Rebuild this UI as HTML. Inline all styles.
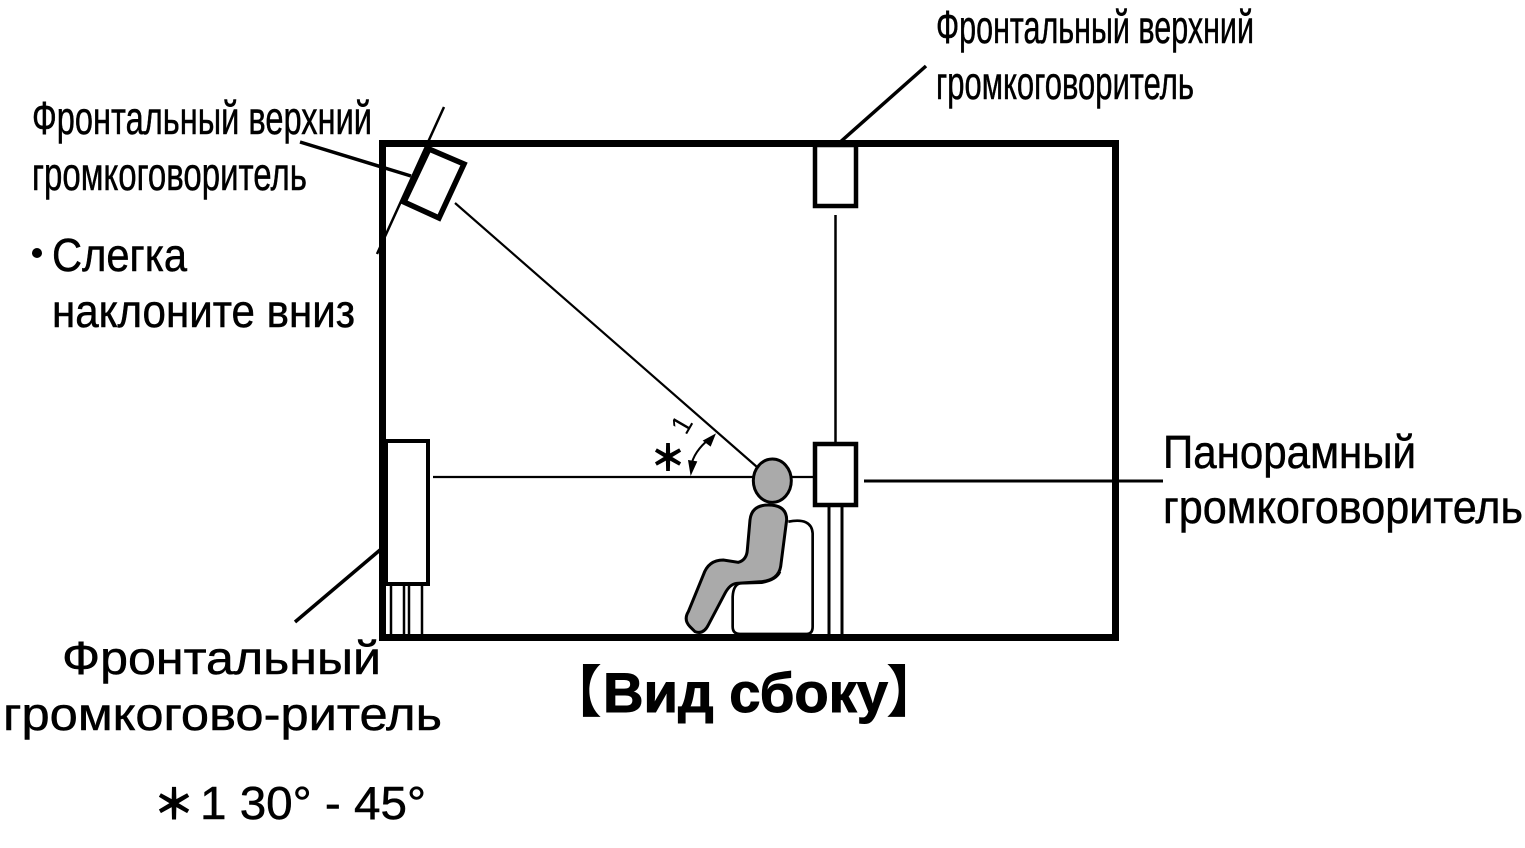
<!DOCTYPE html>
<html><head><meta charset="utf-8"><style>
html,body{margin:0;padding:0;background:#fff}
svg{display:block}
text{font-family:"Liberation Sans","Noto Sans CJK JP",sans-serif;fill:#000}
</style></head><body>
<svg width="1525" height="848" viewBox="0 0 1525 848" xmlns="http://www.w3.org/2000/svg">
<g fill="none" stroke="#000">
<rect x="382.5" y="143.5" width="733" height="494" stroke-width="7"/>
<line x1="444" y1="107" x2="377" y2="254" stroke-width="2.5"/>
<line x1="300" y1="142" x2="411" y2="176" stroke-width="3.5"/>
<polygon points="429,149 464,164 439,218 404,202" fill="#fff" stroke-width="5.5"/>
<line x1="455" y1="203" x2="757" y2="467" stroke-width="2.2"/>
<line x1="433" y1="477" x2="815" y2="477" stroke-width="2.2"/>
<line x1="835.5" y1="215" x2="835.5" y2="442" stroke-width="2.5"/>
<rect x="815" y="145" width="41" height="61" stroke-width="4.5"/>
<line x1="838" y1="144" x2="926" y2="66" stroke-width="3.5"/>
<rect x="815" y="444" width="41" height="61" fill="#fff" stroke-width="4.5"/>
<line x1="864" y1="481" x2="1163" y2="481" stroke-width="3"/>
<line x1="829" y1="507" x2="829" y2="635" stroke-width="3"/>
<line x1="842" y1="507" x2="842" y2="635" stroke-width="3"/>
<rect x="386" y="441" width="42" height="143" fill="#fff" stroke-width="4"/>
<line x1="391" y1="585" x2="391" y2="635" stroke-width="2.5"/>
<line x1="404" y1="585" x2="404" y2="635" stroke-width="2.5"/>
<line x1="409" y1="585" x2="409" y2="635" stroke-width="2.5"/>
<line x1="422" y1="585" x2="422" y2="635" stroke-width="2.5"/>
<line x1="295" y1="622" x2="380" y2="550" stroke-width="3.5"/>
<g transform="translate(640 410) scale(.3333)">
<path d="M445,335 Q515,322 518,370 L518,650 Q518,672 500,672 L300,672 Q278,672 278,650 L278,560 Q280,525 300,520 L365,518 Q410,510 420,485" stroke-width="8"/>
<path d="M330,330 Q335,285 385,285 Q440,285 440,330 L422,470 Q415,510 365,515 L290,520 Q270,522 255,550 L205,645 Q190,675 165,665 L150,650 Q130,630 145,605 L190,495 Q205,450 250,450 L295,457 Q320,450 322,420 Z" fill="#aaa" stroke-width="9"/>
<ellipse cx="397" cy="212" rx="57" ry="65" fill="#aaa" stroke-width="9"/>
<path d="M210,85 Q160,125 153,170" stroke-width="6"/>
<path d="M228,70 L188,92 L212,110 Z M152,198 L144,150 L172,154 Z" fill="#000" stroke="none"/>
</g>
</g>
<circle cx="37" cy="253" r="5"/>
<g font-size="46" stroke="#000" stroke-width=".5">
<text x="32" y="134" textLength="340" lengthAdjust="spacingAndGlyphs">Фронтальный верхний</text>
<text x="32" y="190" textLength="275" lengthAdjust="spacingAndGlyphs">громкоговоритель</text>
<text x="936" y="43" textLength="318" lengthAdjust="spacingAndGlyphs">Фронтальный верхний</text>
<text x="936" y="99" textLength="258" lengthAdjust="spacingAndGlyphs">громкоговоритель</text>
<text x="52" y="271" textLength="135" lengthAdjust="spacingAndGlyphs">Слегка</text>
<text x="52" y="327" textLength="303" lengthAdjust="spacingAndGlyphs">наклоните вниз</text>
<text x="1163" y="468" textLength="253" lengthAdjust="spacingAndGlyphs">Панорамный</text>
<text x="1163" y="523" textLength="360" lengthAdjust="spacingAndGlyphs">громкоговоритель</text>
<text x="62" y="674" textLength="319" lengthAdjust="spacingAndGlyphs">Фронтальный</text>
<text x="3" y="730" textLength="439" lengthAdjust="spacingAndGlyphs">громкогово-ритель</text>
<text x="200" y="819" textLength="226" lengthAdjust="spacingAndGlyphs">1 30° - 45°</text>
</g>
<text x="603" y="712" font-size="56" font-weight="bold" stroke="#000" stroke-width="1" textLength="285" lengthAdjust="spacingAndGlyphs">Вид сбоку</text>
<text x="546" y="712" font-size="56" font-weight="bold">【</text>
<text x="886" y="712" font-size="56" font-weight="bold">】</text>
<text x="154" y="818" font-size="40" stroke="#000" stroke-width="2">＊</text>
<text x="651" y="470" font-size="34" stroke="#000" stroke-width="2">＊</text>
<text transform="translate(686 436) rotate(-60)" font-size="28">1</text>
</svg>
</body></html>
